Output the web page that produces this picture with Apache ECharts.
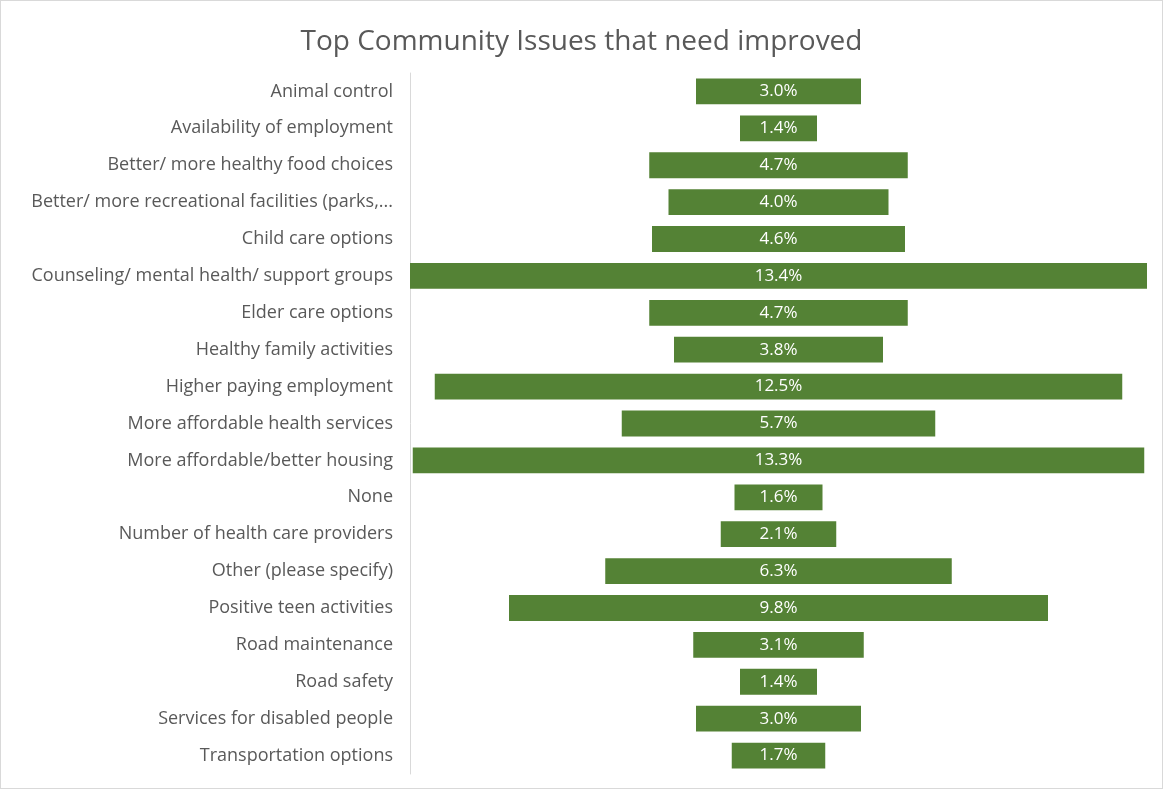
<!DOCTYPE html>
<html>
<head>
<meta charset="utf-8">
<script src="https://cdn.jsdelivr.net/npm/echarts@6/dist/echarts.min.js"></script>
<style>
  html, body { margin: 0; padding: 0; background: #fff; }
  #frame { position: absolute; left: 0; top: 0; width: 1161px; height: 787px; border: 1px solid #d9d9d9; box-sizing: content-box; }
  #chart { width: 1161px; height: 787px; }
</style>
</head>
<body>
<div id="frame"><div id="chart"></div></div>
<script>
const categories = [
  'Animal control',
  'Availability of employment',
  'Better/ more healthy food choices',
  'Better/ more recreational facilities (parks,...',
  'Child care options',
  'Counseling/ mental health/ support groups',
  'Elder care options',
  'Healthy family activities',
  'Higher paying employment',
  'More affordable health services',
  'More affordable/better housing',
  'None',
  'Number of health care providers',
  'Other (please specify)',
  'Positive teen activities',
  'Road maintenance',
  'Road safety',
  'Services for disabled people',
  'Transportation options'
];
const shares = [3.0, 1.4, 4.7, 4.0, 4.6, 13.4, 4.7, 3.8, 12.5, 5.7, 13.3, 1.6, 2.1, 6.3, 9.8, 3.1, 1.4, 3.0, 1.7];

const maxShare = Math.max(...shares);
// transparent spacer so each bar is centred on the middle of the axis
const spacer = shares.map(v => (maxShare - v) / 2);

const font = '"Open Sans", "Noto Sans", sans-serif';
const chart = echarts.init(document.getElementById('chart'), null, { renderer: 'canvas' });
chart.setOption({
  animation: false,
  title: {
    text: 'Top Community Issues that need improved',
    left: 'center',
    top: 22,
    textStyle: { fontFamily: font, fontSize: 28, fontWeight: 'normal', color: '#595959' }
  },
  grid: { left: 409, right: 15, top: 72, bottom: 14, containLabel: false },
  xAxis: {
    type: 'value', min: 0, max: maxShare, show: false
  },
  yAxis: {
    type: 'category',
    data: categories,
    inverse: true,
    axisLine: { show: true, lineStyle: { color: '#d9d9d9', width: 1 } },
    axisTick: { show: false },
    axisLabel: { fontFamily: font, fontSize: 18, color: '#595959', margin: 17 }
  },
  series: [
    {
      type: 'bar', stack: 'c', data: spacer,
      itemStyle: { color: 'transparent' }, silent: true,
      barCategoryGap: '30%'
    },
    {
      type: 'bar', stack: 'c', data: shares,
      barCategoryGap: '30%',
      itemStyle: { color: '#548235' },
      label: {
        show: true, position: 'inside', color: '#fff',
        fontFamily: font, fontSize: 17,
        formatter: p => p.value.toFixed(1) + '%'
      }
    }
  ]
});
</script>
</body>
</html>
